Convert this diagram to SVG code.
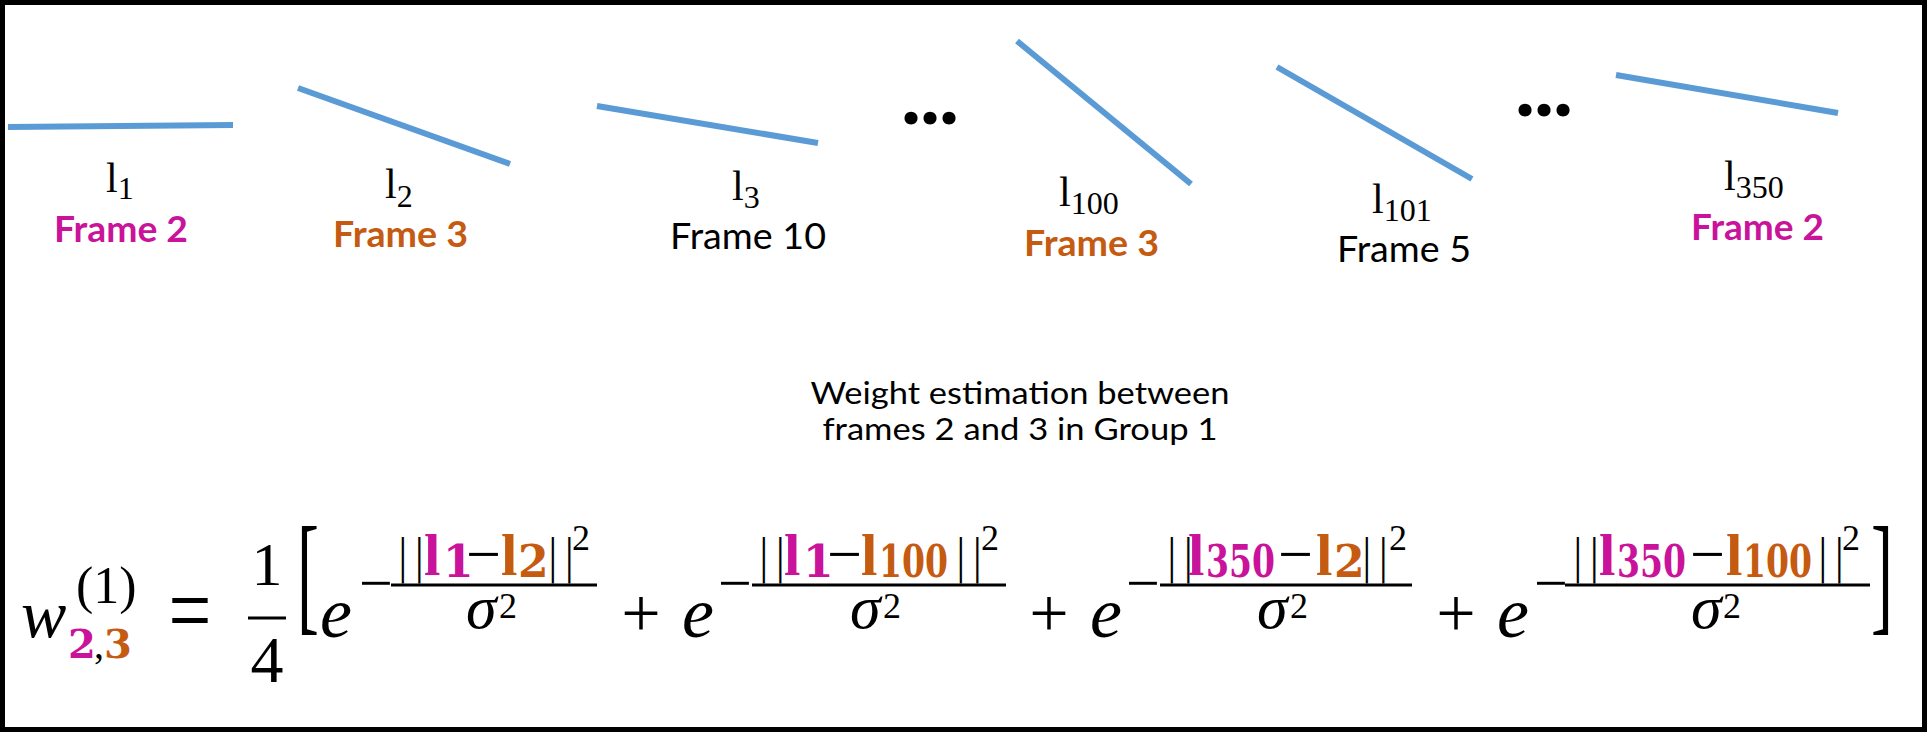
<svg xmlns="http://www.w3.org/2000/svg" width="1927" height="732" viewBox="0 0 1927 732">
<style>
.seg{stroke:#5B9BD5;stroke-width:6;stroke-linecap:butt;fill:none}
.lb{font-family:"Liberation Serif",serif;font-size:42px;fill:#000}
.ls{font-family:"Liberation Serif",serif;font-size:32px;fill:#000}
.fr{font-family:Lato,"Liberation Sans",sans-serif;font-size:37px;fill:#000}
.b{font-weight:bold}
.dots{font-family:Lato,"Liberation Sans",sans-serif;font-weight:900;font-size:80px;fill:#000}
.cap{font-family:Lato,"Liberation Sans",sans-serif;font-size:30px;fill:#000;text-anchor:middle}
.m{font-family:"Liberation Serif",serif;fill:#000}
.i{font-style:italic}
.bd{font-family:"DejaVu Serif",serif;font-weight:bold}
.lbd{font-family:"Liberation Serif",serif;font-weight:bold;font-size:59px}
.nb{font-size:60px}
.mn{font-size:62px}
.nm{font-family:"DejaVu Sans",sans-serif;font-size:46px;font-weight:200}
.sq{font-size:36px}
.sg{font-size:62px;font-style:italic}
.bs{font-size:44px}
.bar{stroke:#000;stroke-width:3}
.pk{fill:#C9139A}
.or{fill:#C55A11}
</style>
<rect x="2.5" y="2.5" width="1922" height="727" fill="#fff" stroke="#000" stroke-width="5"/>
<g id="connectors"/>
<g id="node-l1">
<line class="seg" x1="8" y1="127" x2="233" y2="125"/>
<text class="lb" x="106" y="192">l<tspan class="ls" y="199">1</tspan></text>
<text class="fr b pk" x="54" y="242" textLength="134" lengthAdjust="spacingAndGlyphs">Frame 2</text>
</g>
<g id="node-l2">
<line class="seg" x1="298" y1="88" x2="510" y2="164"/>
<text class="lb" x="385" y="198">l<tspan class="ls" y="207">2</tspan></text>
<text class="fr b or" x="333" y="247" textLength="135" lengthAdjust="spacingAndGlyphs">Frame 3</text>
</g>
<g id="node-l3">
<line class="seg" x1="597" y1="106" x2="818" y2="143"/>
<text class="lb" x="732" y="200">l<tspan class="ls" y="208">3</tspan></text>
<text class="fr" x="670" y="249" textLength="156" lengthAdjust="spacingAndGlyphs">Frame 10</text>
</g>
<g id="dots-1"><text class="dots" x="930" y="124" text-anchor="middle">...</text></g>
<g id="node-l100">
<line class="seg" x1="1017" y1="41" x2="1191" y2="184"/>
<text class="lb" x="1059" y="206">l<tspan class="ls" y="214">100</tspan></text>
<text class="fr b or" x="1024" y="256" textLength="135" lengthAdjust="spacingAndGlyphs">Frame 3</text>
</g>
<g id="node-l101">
<line class="seg" x1="1277" y1="67" x2="1472" y2="179"/>
<text class="lb" x="1372" y="213">l<tspan class="ls" y="221">101</tspan></text>
<text class="fr" x="1337" y="262" textLength="134" lengthAdjust="spacingAndGlyphs">Frame 5</text>
</g>
<g id="dots-2"><text class="dots" x="1544" y="116" text-anchor="middle">...</text></g>
<g id="node-l350">
<line class="seg" x1="1616" y1="75" x2="1838" y2="113"/>
<text class="lb" x="1724" y="190">l<tspan class="ls" y="198">350</tspan></text>
<text class="fr b pk" x="1691" y="240" textLength="133" lengthAdjust="spacingAndGlyphs">Frame 2</text>
</g>
<g id="caption">
<text class="cap" x="1020" y="404" textLength="419" lengthAdjust="spacingAndGlyphs">Weight estimation between</text>
<text class="cap" x="1020" y="440" textLength="395" lengthAdjust="spacingAndGlyphs">frames 2 and 3 in Group 1</text>
</g>
<g id="equation">
<text class="m i" x="21" y="637" font-size="68">w</text>
<text class="m" x="76" y="603" font-size="52">(1)</text>
<text class="bd pk" x="68" y="658" font-size="40">2</text>
<text class="m" x="94" y="658" font-size="40">,</text>
<text class="bd or" x="104" y="658" font-size="40">3</text>
<text class="m" transform="translate(190,617) scale(1,1.35)" x="0" y="20" font-size="76" text-anchor="middle">=</text>
<text class="m" x="267" y="585" font-size="62" text-anchor="middle">1</text>
<line class="bar" x1="248" y1="618" x2="286" y2="618"/>
<text class="m" x="267" y="682" font-size="66" text-anchor="middle">4</text>
<text class="m" transform="translate(297,637) scale(1,1.98)" x="0" y="-10.3" font-size="66">[</text>
<text class="m" transform="translate(1871,637) scale(1,1.98)" x="0" y="-10.3" font-size="66">]</text>

<g id="term-1">
<text class="m i" x="320" y="637" font-size="72">e</text>
<text class="m nb" x="359" y="603">−</text>
<line class="bar" x1="391" y1="585" x2="597" y2="585"/>
<text class="nm" x="395" y="572" letter-spacing="1">||</text>
<text class="lbd pk" x="424" y="575">l</text>
<text class="bd pk bs" x="443" y="577">1</text>
<text class="m mn" x="466" y="575">−</text>
<text class="lbd or" x="501" y="575">l</text>
<text class="bd or bs" x="518" y="577">2</text>
<text class="nm" x="545" y="572" letter-spacing="1">||</text>
<text class="m sq" x="572" y="550">2</text>
<text class="m sg" x="466" y="628">σ</text>
<text class="m sq" x="499" y="618">2</text>
</g>

<text class="m" x="641" y="637" font-size="70" text-anchor="middle">+</text>

<g id="term-2">
<text class="m i" x="682" y="637" font-size="72">e</text>
<text class="m nb" x="718" y="603">−</text>
<line class="bar" x1="752" y1="585" x2="1006" y2="585"/>
<text class="nm" x="756" y="572" letter-spacing="1">||</text>
<text class="lbd pk" x="784" y="575">l</text>
<text class="bd pk bs" x="803" y="577">1</text>
<text class="m mn" x="827" y="575">−</text>
<text class="lbd or" x="861" y="575">l</text>
<text class="bd or bs" x="879" y="577" textLength="69" lengthAdjust="spacingAndGlyphs">100</text>
<text class="nm" x="953" y="572" letter-spacing="1">||</text>
<text class="m sq" x="981" y="550">2</text>
<text class="m sg" x="850" y="628">σ</text>
<text class="m sq" x="883" y="618">2</text>
</g>

<text class="m" x="1049" y="637" font-size="70" text-anchor="middle">+</text>

<g id="term-3">
<text class="m i" x="1090" y="637" font-size="72">e</text>
<text class="m nb" x="1126" y="603">−</text>
<line class="bar" x1="1160" y1="585" x2="1412" y2="585"/>
<text class="nm" x="1164" y="572" letter-spacing="1">||</text>
<text class="lbd pk" x="1188" y="575">l</text>
<text class="bd pk bs" x="1206" y="577" textLength="69" lengthAdjust="spacingAndGlyphs">350</text>
<text class="m mn" x="1278" y="575">−</text>
<text class="lbd or" x="1316" y="575">l</text>
<text class="bd or bs" x="1334" y="577">2</text>
<text class="nm" x="1359" y="572" letter-spacing="1">||</text>
<text class="m sq" x="1389" y="550">2</text>
<text class="m sg" x="1257" y="628">σ</text>
<text class="m sq" x="1290" y="618">2</text>
</g>

<text class="m" x="1456" y="637" font-size="70" text-anchor="middle">+</text>

<g id="term-4">
<text class="m i" x="1497" y="637" font-size="72">e</text>
<text class="m nb" x="1534" y="603">−</text>
<line class="bar" x1="1565" y1="585" x2="1870" y2="585"/>
<text class="nm" x="1570" y="572" letter-spacing="1">||</text>
<text class="lbd pk" x="1599" y="575">l</text>
<text class="bd pk bs" x="1617" y="577" textLength="69" lengthAdjust="spacingAndGlyphs">350</text>
<text class="m mn" x="1690" y="575">−</text>
<text class="lbd or" x="1726" y="575">l</text>
<text class="bd or bs" x="1743" y="577" textLength="69" lengthAdjust="spacingAndGlyphs">100</text>
<text class="nm" x="1815" y="572" letter-spacing="1">||</text>
<text class="m sq" x="1842" y="550">2</text>
<text class="m sg" x="1691" y="628">σ</text>
<text class="m sq" x="1723" y="618">2</text>
</g>
</g>
</svg>
